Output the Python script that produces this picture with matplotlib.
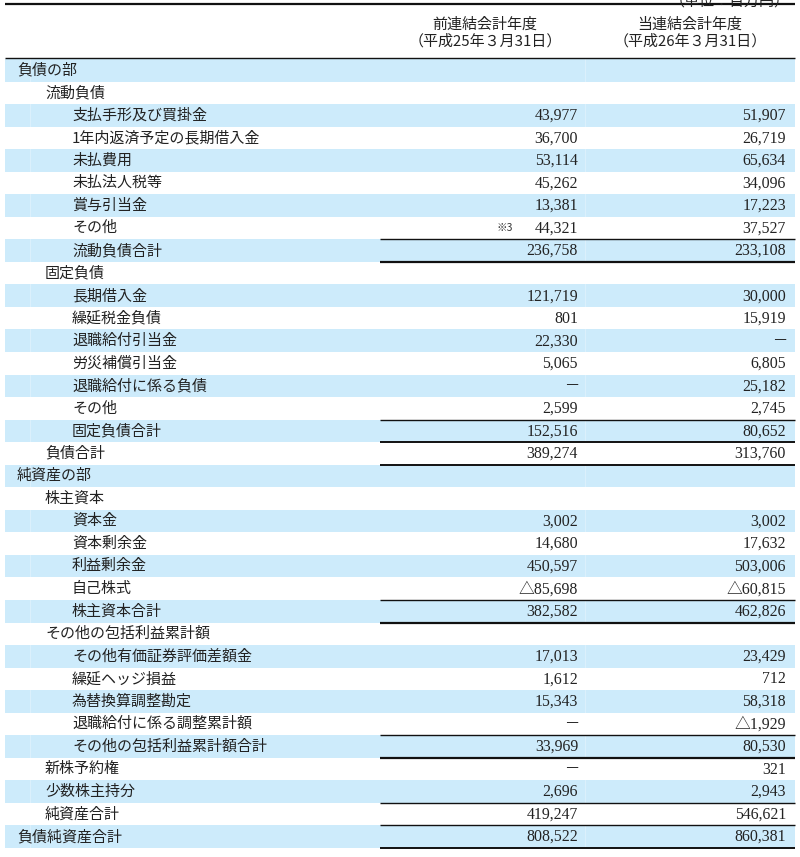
import matplotlib
matplotlib.use("Agg")
import matplotlib.pyplot as plt

plt.rcParams['font.family'] = ['Noto Sans CJK JP', 'DejaVu Sans']

# ---- data ----
labels = [
    "負債の部", "流動負債", "支払手形及び買掛金", "1年内返済予定の長期借入金", "未払費用",
    "未払法人税等", "賞与引当金", "その他", "流動負債合計", "固定負債",
    "長期借入金", "繰延税金負債", "退職給付引当金", "労災補償引当金", "退職給付に係る負債",
    "その他", "固定負債合計", "負債合計", "純資産の部", "株主資本",
    "資本金", "資本剰余金", "利益剰余金", "自己株式", "株主資本合計",
    "その他の包括利益累計額", "その他有価証券評価差額金", "繰延ヘッジ損益", "為替換算調整勘定",
    "退職給付に係る調整累計額", "その他の包括利益累計額合計", "新株予約権", "少数株主持分",
    "純資産合計", "負債純資産合計",
]
levels = [0, 1, 2, 2, 2, 2, 2, 2, 2, 1,
          2, 2, 2, 2, 2, 2, 2, 1, 0, 1,
          2, 2, 2, 2, 2, 1, 2, 2, 2, 2,
          2, 1, 1, 1, 0]
prev_year = ["", "", "43,977", "36,700", "53,114", "45,262", "13,381", "44,321", "236,758", "",
             "121,719", "801", "22,330", "5,065", "―", "2,599", "152,516", "389,274", "", "",
             "3,002", "14,680", "450,597", "△85,698", "382,582", "", "17,013", "1,612", "15,343",
             "―", "33,969", "―", "2,696", "419,247", "808,522"]
curr_year = ["", "", "51,907", "26,719", "65,634", "34,096", "17,223", "37,527", "233,108", "",
             "30,000", "15,919", "―", "6,805", "25,182", "2,745", "80,652", "313,760", "", "",
             "3,002", "17,632", "503,006", "△60,815", "462,826", "", "23,429", "712", "58,318",
             "△1,929", "80,530", "321", "2,943", "546,621", "860,381"]
notes = {7: "※3"}
header_cols = [("前連結会計年度", "（平成25年３月31日）"), ("当連結会計年度", "（平成26年３月31日）")]
unit_text = "（単位：百万円）"
# rule lines under rows: (row index, weight)
rules = [(7, 1.0), (8, 1.6), (15, 1.0), (16, 1.4), (17, 1.4), (23, 1.0), (24, 1.6),
         (29, 1.0), (30, 1.6), (32, 1.0), (33, 1.0), (34, 1.4)]

# ---- layout ----
W, H = 800, 857
fig = plt.figure(figsize=(W / 100, H / 100), dpi=100)
ax = fig.add_axes([0, 0, 1, 1])
ax.set_xlim(0, W)
ax.set_ylim(H, 0)
ax.axis('off')

left, right = 5, 795
row_top0 = 59.0
row_h = 22.54
indent_x = {0: 17, 1: 45, 2: 72}
col_right = [578, 786]
col_center = [485, 690]
col_split = 585
blue = "#cdebfb"
fs = 10.8
num_family = ['Liberation Serif', 'Noto Sans CJK JP']

# top rule and header
ax.plot([left, right], [3.5, 3.5], color="#111111", lw=1.6, solid_capstyle='butt')
ax.text(790, 1, unit_text, ha='right', va='center', fontsize=fs, color="#222222")
for c, (l1, l2) in enumerate(header_cols):
    ax.text(col_center[c], 25, l1, ha='center', va='center', fontsize=fs, color="#222222")
    ax.text(col_center[c], 41, l2, ha='center', va='center', fontsize=fs, color="#222222")
ax.plot([left, right], [58, 58], color="#111111", lw=1.0, solid_capstyle='butt')

for i, lab in enumerate(labels):
    top = row_top0 + i * row_h
    cy = top + row_h / 2
    if i % 2 == 0:
        ax.add_patch(plt.Rectangle((left, top), right - left, row_h, facecolor=blue,
                                   edgecolor='none', zorder=0))
        ax.plot([30, 30], [top, top + row_h], color="white", lw=0.6, alpha=0.35, zorder=1)
        ax.plot([col_split, col_split], [top, top + row_h], color="white", lw=0.6, alpha=0.35, zorder=1)
    ax.text(indent_x[levels[i]], cy, lab, ha='left', va='center', fontsize=fs, color="#222222")
    for c, vals in enumerate([prev_year, curr_year]):
        v = vals[i]
        if not v:
            continue
        if v == "―":
            ax.text(col_right[c], cy, v, ha='right', va='center', fontsize=9.5,
                    family=['Noto Sans CJK JP'], color="#222222")
        else:
            ax.text(col_right[c], cy + 0.5, v, ha='right', va='center', fontsize=fs + 0.6,
                    family=num_family, color="#222222")
    if i in notes:
        ax.text(497, cy, notes[i], ha='left', va='center', fontsize=7.5, color="#333333")

for r, w in rules:
    y = row_top0 + (r + 1) * row_h
    ax.plot([380, right], [y, y], color="#111111", lw=w, solid_capstyle='butt', zorder=3)

fig.savefig("out.png", dpi=100)
